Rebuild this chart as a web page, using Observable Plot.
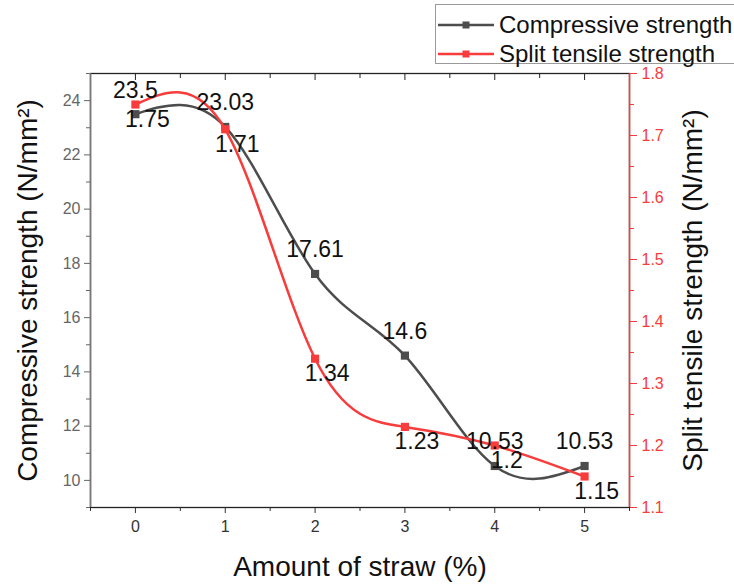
<!DOCTYPE html>
<html>
<head>
<meta charset="utf-8">
<script src="https://cdn.jsdelivr.net/npm/d3@7"></script>
<script src="https://cdn.jsdelivr.net/npm/@observablehq/plot@0.6"></script>
<style>
  body { margin: 0; background: #fff; }
  #wrap { position: relative; width: 734px; height: 585px; font-family: "Liberation Sans", Arial, sans-serif; }
  #legend { position: absolute; left: 435px; top: 4px; width: 320px; height: 58px; border: 1px solid #9a9a9a; border-right: none; background: #fff; }
  .entry { position: absolute; left: 2px; height: 30px; display: flex; align-items: center; font-size: 24px; color: #111; white-space: nowrap; }
  .entry svg { margin-right: 5px; }
</style>
</head>
<body>
<div id="wrap"></div>
<script>
// ---- data ----
const straw = [0, 1, 2, 3, 4, 5];
const compressive = [23.5, 23.03, 17.61, 14.6, 10.53, 10.53];
const splitTensile = [1.75, 1.71, 1.34, 1.23, 1.2, 1.15];
const compLabels = ["23.5", "23.03", "17.61", "14.6", "10.53", "10.53"];
const splitLabels = ["1.75", "1.71", "1.34", "1.23", "1.2", "1.15"];
const xTicks = [0, 1, 2, 3, 4, 5];
const xMinor = [-0.5, 0.5, 1.5, 2.5, 3.5, 4.5, 5.5];
const leftTicks = [10, 12, 14, 16, 18, 20, 22, 24];
const leftMinor = [9, 11, 13, 15, 17, 19, 21, 23, 25];
const rightTicks = [1.1, 1.2, 1.3, 1.4, 1.5, 1.6, 1.7, 1.8];
const rightMinor = [1.15, 1.25, 1.35, 1.45, 1.55, 1.65, 1.75];
const seriesNames = ["Compressive strength", "Split tensile strength"];

const GRAY = "#4d4d4d";
const RED = "#f83b3b";
const leftDomain = [9, 25];
const rightDomain = [1.1, 1.8];
// map right-axis values onto the left scale's domain
const toLeft = v => leftDomain[0] + (v - rightDomain[0]) * (leftDomain[1] - leftDomain[0]) / (rightDomain[1] - rightDomain[0]);
const fromLeft = y => rightDomain[0] + (y - leftDomain[0]) * (rightDomain[1] - rightDomain[0]) / (leftDomain[1] - leftDomain[0]);

const comp = straw.map((x, i) => ({x, y: compressive[i], label: compLabels[i]}));
const split = straw.map((x, i) => ({x, y: toLeft(splitTensile[i]), label: splitLabels[i]}));

const chart = Plot.plot({
  width: 734,
  height: 585,
  marginLeft: 90,
  marginRight: 105,
  marginTop: 73,
  marginBottom: 78,
  style: {fontFamily: "Liberation Sans, Arial, sans-serif", background: "#fff"},
  x: {domain: [-0.5, 5.5]},
  y: {domain: leftDomain},
  marks: [
    // bottom axis
    Plot.axisX(xTicks, {anchor: "bottom", tickSize: 6, tickPadding: 7, fontSize: 16, color: "#333", label: null}),
    Plot.axisX(xMinor, {anchor: "bottom", tickSize: 4, tickFormat: () => "", color: "#333", label: null}),
    // top axis (inward ticks)
    Plot.axisX(xTicks, {anchor: "top", tickSize: -6, tickFormat: () => "", color: "#222", label: null}),
    Plot.axisX(xMinor, {anchor: "top", tickSize: -4, tickFormat: () => "", color: "#222", label: null}),
    // left axis
    Plot.axisY(leftTicks, {anchor: "left", tickSize: 6, tickPadding: 4, fontSize: 16, color: "#666", label: null}),
    Plot.axisY(leftMinor, {anchor: "left", tickSize: 4, tickFormat: () => "", color: "#666", label: null}),
    // right axis (split tensile)
    Plot.axisY(rightTicks.map(toLeft), {anchor: "right", tickSize: 7, tickPadding: 5, fontSize: 16, color: RED, label: null,
      tickFormat: d => d3.format(".1f")(fromLeft(d))}),
    Plot.axisY(rightMinor.map(toLeft), {anchor: "right", tickSize: 4, tickFormat: () => "", color: RED, label: null}),
    // frame
    Plot.frame({stroke: "#222", strokeWidth: 1.3}),
    Plot.ruleX([-0.5], {stroke: "#777", strokeWidth: 1.5}),
    Plot.ruleX([5.5], {stroke: RED, strokeWidth: 1.5}),
    // axis titles
    Plot.text(["Amount of straw (%)"], {frameAnchor: "bottom", dy: 60, fontSize: 28, fill: "#111", lineAnchor: "middle", textAnchor: "middle"}),
    Plot.text(["Compressive strength (N/mm²)"], {frameAnchor: "left", dx: -62, rotate: -90, fontSize: 28, fill: "#111", lineAnchor: "middle", textAnchor: "middle"}),
    Plot.text(["Split tensile strength (N/mm²)"], {frameAnchor: "right", dx: 64, rotate: -90, fontSize: 28, fill: "#111", lineAnchor: "middle", textAnchor: "middle"}),
    // series
    Plot.line(comp, {x: "x", y: "y", curve: "natural", stroke: GRAY, strokeWidth: 2.5}),
    Plot.dot(comp, {x: "x", y: "y", symbol: "square", r: 4.6, fill: GRAY, stroke: "none"}),
    Plot.line(split, {x: "x", y: "y", curve: "natural", stroke: RED, strokeWidth: 2.5}),
    Plot.dot(split, {x: "x", y: "y", symbol: "square", r: 4.6, fill: RED, stroke: "none"}),
    // value labels
    Plot.text(comp, {x: "x", y: "y", text: "label", dy: -24, fontSize: 23, fill: "#111", lineAnchor: "middle"}),
    Plot.text(split, {x: "x", y: "y", text: "label", dx: 12, dy: 15, fontSize: 23, fill: "#111", lineAnchor: "middle"})
  ]
});

const wrap = document.getElementById("wrap");
wrap.appendChild(chart);

// legend
const legend = document.createElement("div");
legend.id = "legend";
[[seriesNames[0], GRAY, 5], [seriesNames[1], RED, 34]].forEach(([name, color, top]) => {
  const e = document.createElement("div");
  e.className = "entry";
  e.style.top = top + "px";
  e.innerHTML = `<svg width="56" height="12"><line x1="0" y1="6" x2="56" y2="6" stroke="${color}" stroke-width="2.5"/><rect x="24.5" y="2.5" width="7" height="7" fill="${color}"/></svg><span>${name}</span>`;
  legend.appendChild(e);
});
wrap.appendChild(legend);
</script>
</body>
</html>
